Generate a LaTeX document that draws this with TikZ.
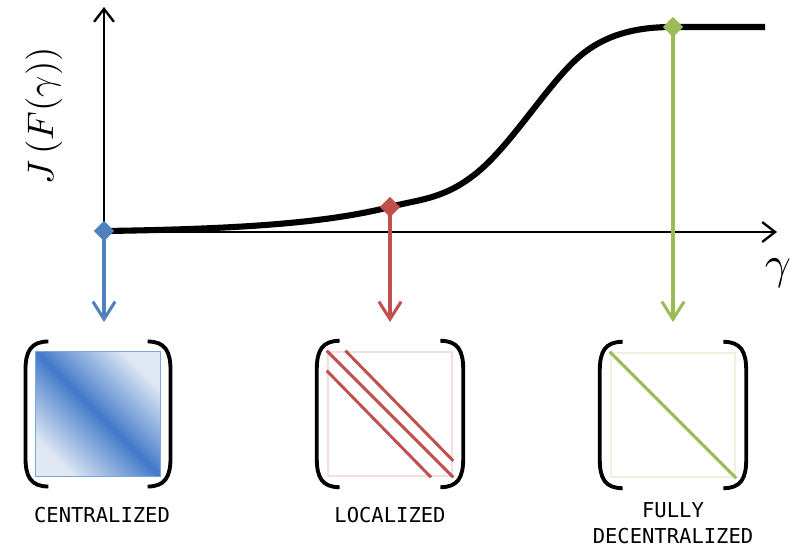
\documentclass[tikz,border=0pt]{standalone}
\usepackage{amsmath}
\usepackage{fontspec}
\setmonofont{DejaVu Sans Mono}
\usepackage{tikz}
\usetikzlibrary{arrows.meta,shapes,positioning}
\usepackage{xcolor}
\definecolor{cblue}{RGB}{79,129,189}
\definecolor{cred}{RGB}{192,80,77}
\definecolor{cgreen}{RGB}{155,187,89}
\definecolor{cbluedark}{RGB}{66,122,204}
\definecolor{cbluelight}{RGB}{224,232,243}
\definecolor{cblueedge}{RGB}{126,163,214}
\definecolor{credlight}{RGB}{244,222,222}
\definecolor{cgreenlight}{RGB}{236,241,224}
\tikzstyle{axis} = [line width=2pt,-{Straight Barb[length=11pt,width=17pt,line width=2pt]}]
\tikzstyle{pick} = [line width=2.6pt,-{Straight Barb[length=15pt,width=19pt,line width=2.6pt]}]
\tikzstyle{mark point} = [diamond, inner sep=0pt, minimum size=17pt]
\tikzstyle{mbox} = [rectangle, inner sep=0pt, minimum size=106pt]
\tikzstyle{bracket} = [line width=3.3pt]
\tikzstyle{label} = [font=\fontsize{17.5}{22}\selectfont\ttfamily, align=center]

\begin{document}
\begin{tikzpicture}[x=0.03cm, y=-0.03cm]
\useasboundingbox (0,0) rectangle (800,549);

% Axes
\coordinate (o) at (104,232);
\coordinate (xend) at (777,232);
\coordinate (yend) at (104,7);
\draw[axis] (o) -- (xend);
\draw[axis] (o) -- (yend);
\node[scale=3.9] (xlab) at (778,273) {$\gamma$};
\node[rotate=90, scale=3.15] (ylab) at (44,116) {$J\,(F(\gamma))$};

% Cost curve
\draw[line width=5.2pt] (104,231) .. controls (250,229) and (330,222) .. (390,207)
  .. controls (415,200) and (440,200) .. (470,178)
  .. controls (510,150) and (550,78) .. (585,52)
  .. controls (610,33) and (640,27) .. (672,27) -- (765,27);

% Matrices
\node[mbox, draw=cblueedge, line width=0.8pt, top color=cbluelight, bottom color=cbluelight, middle color=cbluedark, shading angle=-45] (mc) at (98,414) {};
\node[mbox, draw=credlight, line width=2pt] (ml) at (390,414) {};
\node[mbox, draw=cgreenlight, line width=2pt] (md) at (673,415) {};

\draw[cred, line width=2.5pt] (ml.north west) -- (ml.south east);
\draw[cred, line width=2.5pt] ([xshift=16pt]ml.north west) -- ([yshift=14pt]ml.south east);
\draw[cred, line width=2.5pt] ([yshift=-17pt]ml.north west) -- ([xshift=-19pt]ml.south east);
\draw[cgreen, line width=2.5pt] (md.north west) -- (md.south east);

\foreach \m in {mc,ml,md} {
  \draw[bracket] ([xshift=11pt,yshift=8.5pt]\m.north west) .. controls +(-15pt,0) and +(0,16pt) .. ([xshift=-8.5pt,yshift=-16pt]\m.north west)
    -- ([xshift=-8.5pt,yshift=16pt]\m.south west) .. controls +(0,-16pt) and +(-15pt,0) .. ([xshift=11pt,yshift=-8.5pt]\m.south west);
  \draw[bracket] ([xshift=-11pt,yshift=8.5pt]\m.north east) .. controls +(15pt,0) and +(0,16pt) .. ([xshift=8.5pt,yshift=-16pt]\m.north east)
    -- ([xshift=8.5pt,yshift=16pt]\m.south east) .. controls +(0,-16pt) and +(15pt,0) .. ([xshift=-11pt,yshift=-8.5pt]\m.south east);
}

% Labels
\node[label] (tc) at (102,515) {CENTRALIZED};
\node[label] (tl) at (390,515) {LOCALIZED};
\node[label] (td) at (673,523) {FULLY\\DECENTRALIZED};

% Picks on the curve
\coordinate (ec) at (104,322);
\coordinate (el) at (390,322);
\coordinate (ed) at (673,322);
\node[mark point, fill=cblue] (pc) at (104,231) {};
\node[mark point, fill=cred] (pl) at (390,207) {};
\node[mark point, fill=cgreen] (pd) at (673,27) {};
\draw[pick, cblue] (pc.center) -- (ec);
\draw[pick, cred] (pl.center) -- (el);
\draw[pick, cgreen] (pd.center) -- (ed);
\node[mark point, fill=cblue] at (pc) {};
\node[mark point, fill=cred] at (pl) {};
\node[mark point, fill=cgreen] at (pd) {};
\end{tikzpicture}
\end{document}
